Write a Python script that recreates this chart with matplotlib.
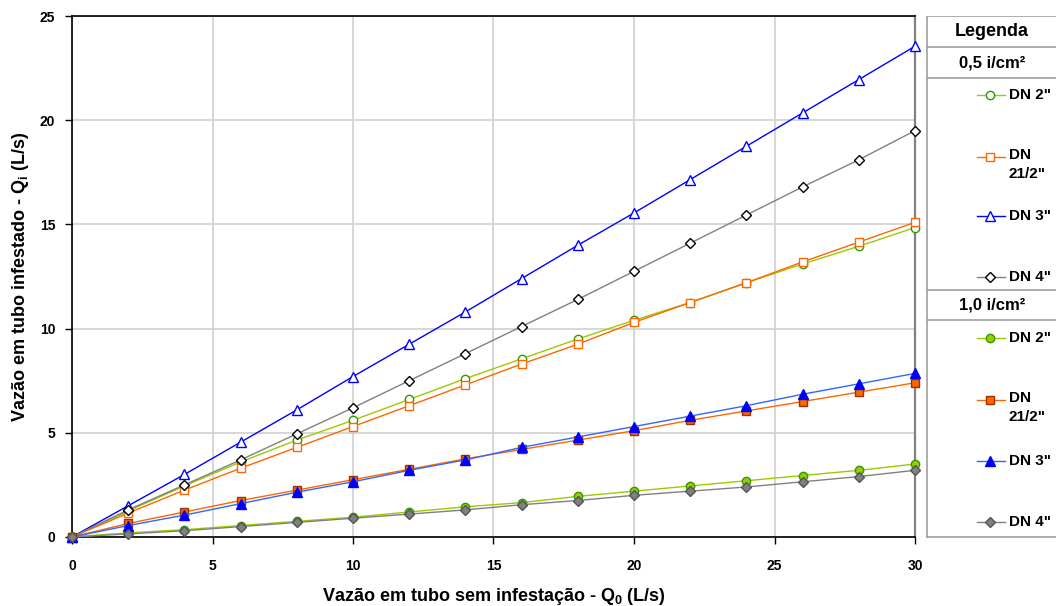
import numpy as np
import matplotlib
matplotlib.use("Agg")
import matplotlib.pyplot as plt

plt.rcParams['font.family'] = ['Liberation Sans', 'DejaVu Sans']
plt.rcParams['font.weight'] = 'bold'
plt.rcParams['mathtext.fontset'] = 'custom'
plt.rcParams['mathtext.rm'] = 'Liberation Sans:bold'
plt.rcParams['mathtext.bf'] = 'Liberation Sans:bold'
plt.rcParams['mathtext.it'] = 'Liberation Sans:bold'

# vazão sem infestação (L/s)
q0 = [0, 2, 4, 6, 8, 10, 12, 14, 16, 18, 20, 22, 24, 26, 28, 30]

# 0,5 i/cm²
dn2_05 = [0, 1.25, 2.45, 3.6, 4.65, 5.6, 6.6, 7.6, 8.55, 9.5, 10.4, 11.25, 12.2, 13.1, 13.95, 14.85]
dn25_05 = [0, 1.15, 2.25, 3.3, 4.3, 5.3, 6.3, 7.3, 8.3, 9.25, 10.3, 11.25, 12.2, 13.2, 14.15, 15.1]
dn3_05 = [0, 1.5, 3.0, 4.55, 6.1, 7.7, 9.25, 10.8, 12.4, 14.0, 15.55, 17.15, 18.75, 20.35, 21.95, 23.55]
dn4_05 = [0, 1.3, 2.5, 3.7, 4.95, 6.2, 7.5, 8.8, 10.1, 11.4, 12.75, 14.1, 15.45, 16.8, 18.1, 19.5]

# 1,0 i/cm²
dn2_10 = [0, 0.2, 0.35, 0.55, 0.75, 0.95, 1.2, 1.45, 1.65, 1.95, 2.2, 2.45, 2.7, 2.95, 3.2, 3.5]
dn25_10 = [0, 0.65, 1.2, 1.75, 2.25, 2.75, 3.25, 3.75, 4.2, 4.65, 5.1, 5.6, 6.05, 6.5, 6.95, 7.4]
dn3_10 = [0, 0.55, 1.05, 1.6, 2.15, 2.65, 3.2, 3.7, 4.3, 4.8, 5.3, 5.8, 6.3, 6.85, 7.35, 7.85]
dn4_10 = [0, 0.15, 0.3, 0.5, 0.7, 0.9, 1.1, 1.3, 1.55, 1.75, 2.0, 2.2, 2.4, 2.65, 2.9, 3.2]

series = [
    (dn2_05, dict(color='#99cc00', marker='o', mfc='white', mec='#339900', ms=6)),
    (dn25_05, dict(color='#ff6600', marker='s', mfc='white', mec='#ff6600', ms=6)),
    (dn3_05, dict(color='#0000ff', marker='^', mfc='white', mec='#0000ff', ms=7)),
    (dn4_05, dict(color='#808080', marker='D', mfc='white', mec='#000000', ms=5)),
    (dn2_10, dict(color='#99cc00', marker='o', mfc='#99cc00', mec='#339900', ms=6)),
    (dn25_10, dict(color='#ff6600', marker='s', mfc='#ff6600', mec='#993300', ms=6)),
    (dn3_10, dict(color='#3366ff', marker='^', mfc='#0000ff', mec='#0000ff', ms=7)),
    (dn4_10, dict(color='#808080', marker='D', mfc='#808080', mec='#555555', ms=5)),
]
labels = ['DN 2"', 'DN\n21/2"', 'DN 3"', 'DN 4"'] * 2

fig = plt.figure(figsize=(10.56, 6.06), dpi=100)
ax = fig.add_axes([72/1056, 1-537/606, (915-72)/1056, (537-16)/606])

for vals, st in series:
    ax.plot(q0, vals, lw=1, clip_on=False, zorder=3, **st)

ax.set_xlim(0, 30)
ax.set_ylim(0, 25)
ax.set_xticks(range(0, 31, 5))
ax.set_yticks(range(0, 26, 5))
ax.grid(True, color='#d0d0d0', lw=1.2)
ax.set_axisbelow(True)
ax.tick_params(labelsize=10, length=5, direction='out', width=1)
ax.tick_params(axis='x', pad=11)
ax.tick_params(axis='y', pad=7)
for lab in ax.get_xticklabels() + ax.get_yticklabels():
    lab.set_fontweight('bold')
ax.spines['top'].set_linewidth(1.2)
ax.spines['right'].set_color('#808080')
ax.spines['right'].set_linewidth(1.6)
ax.spines['left'].set_linewidth(1.2)
ax.spines['bottom'].set_linewidth(1.2)

ax.set_xlabel('Vazão em tubo sem infestação - Q$_0$ (L/s)', fontsize=13, fontweight='bold', labelpad=9)
ax.set_ylabel('Vazão em tubo infestado - Q$_i$ (L/s)', fontsize=13, fontweight='bold', labelpad=6)

# legend panel drawn in pixel coordinates
lg = fig.add_axes([926/1056, 1-540/606, 130/1056, 524/606])
lg.set_xlim(926, 1056)
lg.set_ylim(540, 16)
lg.axis('off')
bc = '#a0a0a0'
lg.plot([927, 927], [16, 537], color=bc, lw=1.2)
lg.plot([927, 1056], [537, 537], color=bc, lw=1.2)
for yy in [16, 47, 78, 290, 320]:
    lg.plot([927, 1056], [yy, yy], color=bc, lw=1.2)
lg.text(992, 32, 'Legenda', ha='center', va='center', fontsize=13, fontweight='bold')
lg.text(992, 63, '0,5 i/cm²', ha='center', va='center', fontsize=12, fontweight='bold')
lg.text(992, 305, '1,0 i/cm²', ha='center', va='center', fontsize=12, fontweight='bold')

entry_y = [95, 157, 216, 277, 338, 400, 461, 522]
for (vals, st), lab, yy in zip(series, labels, entry_y):
    lg.plot([977, 1005], [yy, yy], color=st['color'], lw=1)
    lg.plot([990], [yy], ls='none', marker=st['marker'], mfc=st['mfc'], mec=st['mec'], ms=st['ms'])
    if '\n' in lab:
        lg.text(1009, yy - 9, lab, ha='left', va='top', fontsize=11,
                fontweight='bold', linespacing=1.45)
    else:
        lg.text(1009, yy, lab, ha='left', va='center', fontsize=11, fontweight='bold')

fig.savefig('out.png', dpi=100)
